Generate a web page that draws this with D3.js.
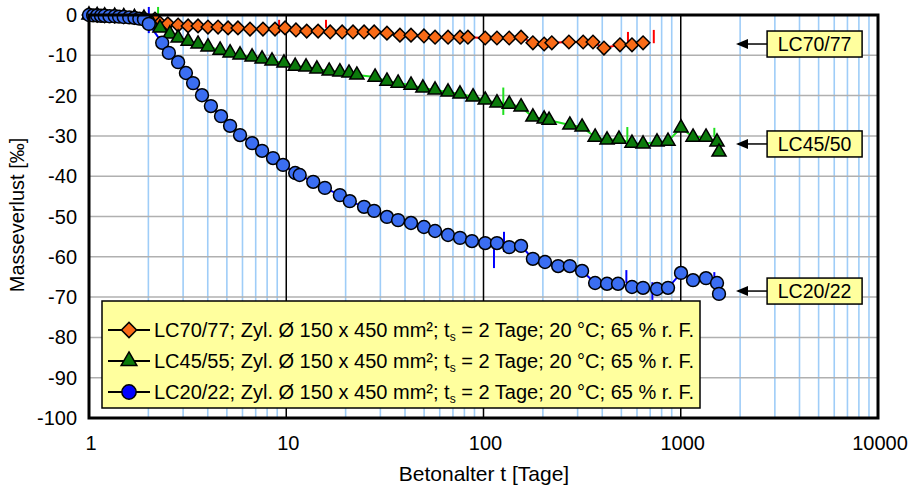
<!DOCTYPE html>
<html>
<head>
<meta charset="utf-8">
<script src="https://cdn.jsdelivr.net/npm/d3@7"></script>
<style>
  body { margin: 0; background: #fff; }
  text { font-family: Arial, "Liberation Sans", sans-serif; fill: #000; }
</style>
</head>
<body>
<script>
// data: [age in days, mass loss in permille]
const lc70 = [
  [1, 0], [1.1, -0.1], [1.2, -0.2], [1.35, -0.3], [1.5, -0.4], [1.7, -0.6], [1.9, -0.8],
  [2.16, -1.0], [2.29, -2.0], [2.51, -2.2], [2.83, -2.5], [3.18, -2.7], [3.57, -2.7],
  [4.01, -3.0], [4.51, -3.0], [5.07, -3.2], [5.69, -3.2], [6.55, -3.5], [7.62, -3.5],
  [8.77, -3.5], [9.86, -3.2], [11.2, -3.7], [12.7, -4.0], [14.5, -4.0], [16.7, -4.2],
  [19.2, -4.2], [21.8, -4.2], [24.8, -4.2], [27.9, -4.2], [32.4, -4.5], [37.7, -5.0],
  [42.9, -5.0], [49.9, -5.2], [56.8, -5.5], [66.1, -5.5], [76.0, -5.5], [83.4, -5.5],
  [102, -5.7], [117, -5.7], [135, -5.7], [155, -5.5], [178, -6.9], [203, -7.2],
  [222, -6.9], [271, -6.7], [320, -6.7], [359, -6.7], [408, -8.2], [492, -7.4],
  [566, -7.4], [644, -6.9]
];
const lc45 = [
  [1, 0], [1.1, -0.1], [1.2, -0.2], [1.35, -0.3], [1.5, -0.4], [1.7, -0.6], [1.9, -0.8],
  [2.09, -2.2], [2.29, -3.2], [2.57, -4.7], [2.83, -5.7], [3.18, -6.5], [3.57, -7.2],
  [4.01, -7.9], [4.62, -8.7], [5.19, -9.4], [5.83, -9.9], [6.71, -10.4], [7.54, -10.9],
  [8.47, -11.4], [9.74, -11.9], [11.1, -12.7], [12.6, -12.9], [14.3, -13.4], [16.5, -13.9],
  [18.7, -14.1], [20.8, -14.4], [22.8, -14.9], [28.2, -15.4], [32.4, -16.4], [36.9, -16.9],
  [42.9, -17.4], [49.3, -18.1], [56.8, -18.6], [66.1, -19.1], [76.0, -19.6], [88.5, -20.3],
  [102, -21.1], [117, -21.8], [135, -22.1], [155, -22.8], [178, -25.3], [203, -25.8],
  [215, -26.1], [274, -27.3], [316, -27.8], [368, -30.3], [423, -31.0], [486, -30.8],
  [566, -31.8], [644, -32.0], [758, -31.5], [862, -31.3], [1003, -28.0], [1154, -30.3],
  [1343, -30.3], [1527, -31.5], [1563, -34.0]
];
const lc20 = [
  [1, 0], [1.05, -0.1], [1.1, -0.1], [1.15, -0.2], [1.2, -0.2], [1.27, -0.3], [1.35, -0.3],
  [1.42, -0.4], [1.5, -0.5], [1.6, -0.6], [1.7, -0.7], [1.8, -0.9], [1.9, -1.1],
  [2.01, -2.2], [2.35, -6.9], [2.54, -9.4], [2.83, -11.7], [3.10, -14.4], [3.37, -16.9],
  [3.74, -19.9], [4.15, -22.6], [4.67, -25.1], [5.19, -27.5], [5.83, -29.8], [6.71, -31.8],
  [7.54, -33.7], [8.57, -35.5], [9.63, -37.2], [11.1, -39.2], [11.7, -39.7], [13.7, -41.4],
  [15.7, -42.9], [18.7, -44.7], [21.0, -46.2], [24.8, -47.6], [27.9, -48.6], [32.4, -50.1],
  [36.9, -50.9], [42.9, -51.6], [49.9, -52.6], [56.8, -53.6], [66.1, -54.6], [76.0, -55.3],
  [87.4, -56.1], [102, -56.6], [117, -56.6], [135, -57.6], [155, -57.3], [178, -60.5],
  [205, -61.3], [239, -62.3], [274, -62.3], [316, -63.5], [368, -66.5], [423, -66.7],
  [481, -66.7], [566, -67.5], [644, -67.7], [758, -68.0], [862, -67.7], [1003, -64.0],
  [1154, -65.8], [1343, -65.3], [1527, -66.5], [1563, -69.2]
];

// short measurement jumps in the raw lines: [age, from, to]
const lc70Spikes = [[9.2, -1.2, -4.5], [15.9, -1.2, -3.2], [540, -4.2, -6.7], [730, -3.7, -7.0]];
const lc45Spikes = [[2.24, 2, 0], [126, -18, -24.8], [536, -27.8, -31.5], [1480, -28, -30.3]];
const lc20Spikes = [[2.01, 2, -4.5], [113, -56.6, -62.8], [127, -53.8, -58.8],
                    [530, -63.3, -66.5], [718, -66.3, -70.7], [1480, -63.8, -67.5]];

const yTicks = [0, -10, -20, -30, -40, -50, -60, -70, -80, -90, -100];
const xTicks = [1, 10, 100, 1000, 10000];
const legendLabels = ["LC70/77", "LC45/55", "LC20/22"];
const legendRest = "; Zyl. Ø 150 x 450 mm²; t";
const legendTail = " = 2 Tage; 20 °C; 65 % r. F.";
const callouts = [["LC70/77", -7.2], ["LC45/50", -32], ["LC20/22", -68.5]];

const W = 909, H = 494;
const svg = d3.select("body").append("svg").attr("width", W).attr("height", H);

const x = d3.scaleLog().domain([1, 10000]).range([89, 878]);
const y = d3.scaleLinear().domain([-100, 0]).range([418, 15]);

// minor vertical grid (light blue)
const minor = [];
for (let d = 1; d < 10000; d *= 10) {
    for (let k = 2; k <= 9; k++) minor.push(d * k);
}
svg.selectAll(".minor").data(minor).enter().append("line")
    .attr("x1", d => x(d)).attr("x2", d => x(d))
    .attr("y1", y(0)).attr("y2", y(-100))
    .style("stroke", "#9fcdf8").style("stroke-width", 1.6);

// horizontal grid
svg.selectAll(".hgrid").data(yTicks.slice(1, -1)).enter().append("line")
    .attr("x1", x(1)).attr("x2", x(10000))
    .attr("y1", d => y(d)).attr("y2", d => y(d))
    .style("stroke", "#b0b0b0").style("stroke-width", 1.5);

// major vertical grid
svg.selectAll(".major").data(xTicks.slice(1, -1)).enter().append("line")
    .attr("x1", d => x(d)).attr("x2", d => x(d))
    .attr("y1", y(0)).attr("y2", y(-100))
    .style("stroke", "#000").style("stroke-width", 1.5);

const line = d3.line().x(d => x(d[0])).y(d => y(d[1]));

const series = [
    { data: lc70, spikes: lc70Spikes, line: "#ff0000", fill: "#f96b17", shape: d3.symbolSquare, size: 92, rot: 45 },
    { data: lc45, spikes: lc45Spikes, line: "#1ee01e", fill: "#0b7a0b", shape: d3.symbolTriangle, size: 86, rot: 0 },
    { data: lc20, spikes: lc20Spikes, line: "#0000ff", fill: "#3b6ef2", shape: d3.symbolCircle, size: 130, rot: 0 }
];

series.forEach(s => {
    svg.append("path").datum(s.data).attr("d", line)
        .style("fill", "none").style("stroke", s.line).style("stroke-width", 2);
    svg.selectAll(null).data(s.spikes).enter().append("line")
        .attr("x1", d => x(d[0])).attr("x2", d => x(d[0]))
        .attr("y1", d => y(d[1])).attr("y2", d => y(d[2]))
        .style("stroke", s.line).style("stroke-width", 2);
});

series.forEach(s => {
    const sym = d3.symbol().type(s.shape).size(s.size);
    svg.selectAll(null).data(s.data).enter().append("path")
        .attr("d", sym)
        .attr("transform", d => "translate(" + x(d[0]) + "," + y(d[1]) + ") rotate(" + s.rot + ")")
        .style("fill", s.fill).style("stroke", "#000").style("stroke-width", 1.5);
});

// legend
const lg = svg.append("g");
lg.append("rect").attr("x", 102).attr("y", 301).attr("width", 598).attr("height", 107)
    .style("fill", "#ffff9e").style("stroke", "#000").style("stroke-width", 1.5);
const legendFills = ["#f96b17", "#0b7a0b", "#0000ff"];
legendLabels.forEach((lab, i) => {
    const yy = 330 + i * 31;
    lg.append("line").attr("x1", 108).attr("x2", 150).attr("y1", yy).attr("y2", yy)
        .style("stroke", "#000").style("stroke-width", 2);
    lg.append("path").attr("d", d3.symbol().type(series[i].shape).size(series[i].size * 1.25))
        .attr("transform", "translate(129," + yy + ") rotate(" + series[i].rot + ")")
        .style("fill", legendFills[i]).style("stroke", "#000").style("stroke-width", 1.5);
    const t = lg.append("text").attr("x", 154).attr("y", yy + 7).style("font-size", "20px");
    t.append("tspan").text(lab + legendRest);
    t.append("tspan").text("s").style("font-size", "12px").attr("dy", 4);
    t.append("tspan").text(legendTail).attr("dy", -4);
});

// callouts on the right
callouts.forEach(c => {
    const cy = y(c[1]);
    const bx = x(2740);
    svg.append("line").attr("x1", bx).attr("x2", x(1950)).attr("y1", cy).attr("y2", cy)
        .style("stroke", "#000").style("stroke-width", 1.5);
    svg.append("path")
        .attr("d", "M" + x(1906) + "," + cy + "l12,-5l0,10z")
        .style("fill", "#000");
    svg.append("rect").attr("x", bx).attr("y", cy - 13).attr("width", 95).attr("height", 26)
        .style("fill", "#ffff9e").style("stroke", "#000").style("stroke-width", 1.5);
    svg.append("text").attr("x", bx + 47.5).attr("y", cy + 7)
        .attr("text-anchor", "middle").style("font-size", "19.5px").text(c[0]);
});

// plot border
svg.append("rect").attr("x", x(1)).attr("y", y(0))
    .attr("width", x(10000) - x(1)).attr("height", y(-100) - y(0))
    .style("fill", "none").style("stroke", "#000").style("stroke-width", 3);

// axes labels
svg.selectAll(".yt").data(yTicks).enter().append("text")
    .attr("x", 77).attr("y", d => y(d) + 7)
    .attr("text-anchor", "end").style("font-size", "20px")
    .text(d => d);
svg.selectAll(".xt").data(xTicks).enter().append("text")
    .attr("x", d => x(d) + 2).attr("y", 450)
    .attr("text-anchor", "middle").style("font-size", "20px")
    .text(d => d);

svg.append("text").attr("x", 484).attr("y", 481)
    .attr("text-anchor", "middle").style("font-size", "21px")
    .text("Betonalter t [Tage]");
svg.append("text").attr("transform", "translate(24,215) rotate(-90)")
    .attr("text-anchor", "middle").style("font-size", "20px")
    .text("Masseverlust [‰]");
</script>
</body>
</html>
